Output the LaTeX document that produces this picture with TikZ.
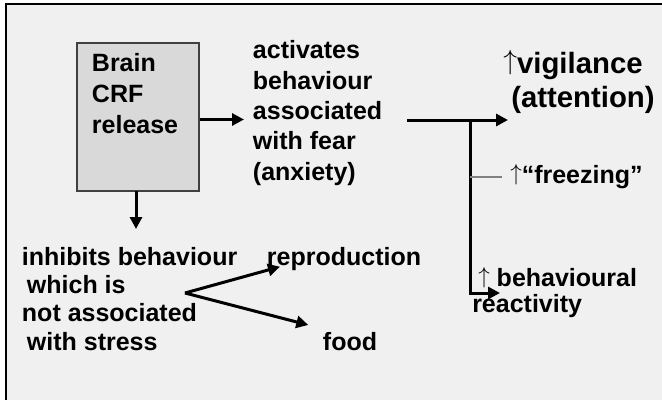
\documentclass[tikz,border=0pt]{standalone}
\usepackage{fontspec}
\setmainfont{Liberation Sans}
\usetikzlibrary{arrows.meta}
\definecolor{slidebg}{HTML}{F0F0F0}
\definecolor{boxfill}{HTML}{D9D9D9}
\definecolor{boxline}{HTML}{404040}
% thin up arrow sitting near the baseline
\newcommand{\upmark}{\raisebox{0.12em}{$\uparrow$}}
\tikzset{
  txt/.style={inner sep=0pt, anchor=base west, align=left,
    font=\bfseries\fontsize{18.75}{22.7}\selectfont},
  conn/.style={line width=2.25pt, line join=miter,
    -{Triangle[length=9pt,width=9pt]}},
  thinline/.style={draw=gray, line width=0.8pt},
}
\begin{document}
\begin{tikzpicture}[x=0.75pt,y=-0.75pt]
  % page and slide frame
  \useasboundingbox (0,0) rectangle (662,400);
  \fill[white] (0,0) rectangle (662,400);
  \fill[slidebg] (6,4) rectangle (662,400);
  \draw[line width=1.1pt] (6,400) -- (6,4) -- (662,4);

  % CRF box (multi-line nodes are placed by their last baseline)
  \node[draw=boxline, fill=boxfill, line width=0.8pt, inner sep=0pt,
        minimum width=91.5pt, minimum height=111pt] (box) at (138,117) {};
  \node[txt, font=\bfseries\fontsize{18.75}{22.9}\selectfont] (crf) at (91.7,133)
    {Brain\\CRF\\release};

  % texts
  \node[txt] (act) at (252.7,180)
    {activates\\behaviour\\associated\\with fear\\(anxiety)};
  \node[txt, font=\bfseries\fontsize{22}{25.5}\selectfont] (vig) at (503,107)
    {\upmark vigilance\\\hspace{6pt}(attention)};
  \node[txt] (frz) at (510,183) {\upmark“freezing”};
  \node[txt, font=\bfseries\fontsize{18.75}{18.9}\selectfont] (beh) at (472,312)
    {\hspace{4.5pt}\upmark\ behavioural\\reactivity};
  \node[txt, font=\bfseries\fontsize{18.75}{21.2}\selectfont] (inh) at (21.7,350)
    {inhibits behaviour\\\hspace{3.75pt}which is\\not associated\\\hspace{3.75pt}with stress};
  \node[txt] (rep) at (266.7,265) {reproduction};
  \node[txt] (food) at (322.7,350) {food};

  % connector points
  \coordinate (boxout) at (box.east |- 0,119.5);
  \coordinate (acttip) at (244,119.5);
  \coordinate (boxdown) at (136,191);
  \coordinate (downtip) at (136,229);
  \coordinate (hstart) at (407,120);
  \coordinate (split) at (470,120);
  \coordinate (vigtip) at (508,120);
  \coordinate (corner) at (470,293);
  \coordinate (behtip) at (500,293);
  \coordinate (frzleft) at (470,177);
  \coordinate (frzright) at (502,177);
  \coordinate (fork) at (185,293);
  \coordinate (reptip) at (280,266.7);
  \coordinate (foodtip) at (308.3,325);

  % connectors
  \draw[conn] (boxout) -- (acttip);
  \draw[conn] (boxdown) -- (downtip);
  \draw[conn] (hstart) -- (vigtip);
  \draw[conn] (split) -- (corner) -- (behtip);
  \draw[thinline] (frzleft) -- (frzright);
  \draw[conn] (fork) -- (reptip);
  \draw[conn] (fork) -- (foodtip);
\end{tikzpicture}
\end{document}
